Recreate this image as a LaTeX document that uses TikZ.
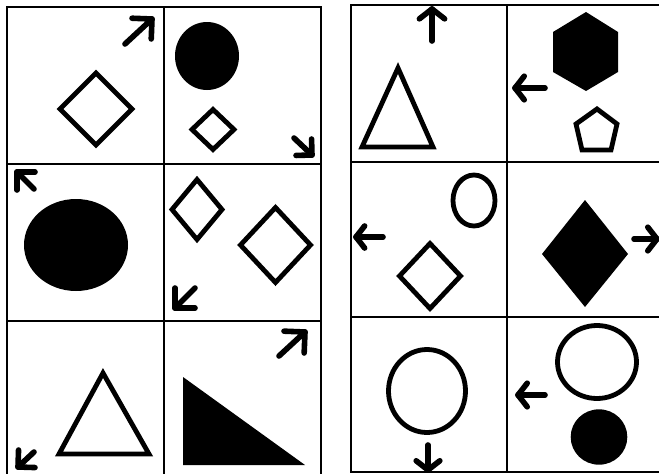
\documentclass[tikz,border=0pt]{standalone}
\usetikzlibrary{calc}
\newcommand\myarrow[4][52]{%
  \draw[arw] (#2) -- (#3);
  \draw[arw] ($(#3)!#4!#1:(#2)$) -- (#3) -- ($(#3)!#4!-#1:(#2)$);
}
\begin{document}
\begin{tikzpicture}[x=1pt,y=-1pt,
  grid/.style={line width=1.5pt},
  outl/.style={line width=4.8pt, line join=miter},
  solid shape/.style={fill=black},
  arw/.style={line width=5.6pt, line cap=round, line join=round}]
\useasboundingbox (0,0) rectangle (659,474);
\clip (0,0) rectangle (659,474);
\fill[white] (0,0) rectangle (659,474);

% ---------- left grid ----------
\draw[grid] (7,7) rectangle (321,482);
\draw[grid] (164,7) -- (164,482);
\draw[grid] (7,164) -- (321,164);
\draw[grid] (7,321) -- (321,321);

% cell 1
\draw[outl] (96,73) -- (132,109) -- (96,145) -- (60,109) -- cycle;
\myarrow[45]{125,44}{152,19}{20pt}
% cell 2
\fill[solid shape] (207,56) ellipse [x radius=32, y radius=34];
\draw[outl] (213,109.5) -- (234,129.5) -- (213,149.5) -- (192,129.5) -- cycle;
\myarrow[45]{294,138}{312,155}{16pt}
% cell 3
\fill[solid shape] (76,245) ellipse [x radius=52, y radius=46];
\myarrow[45]{34,189}{17,172}{18pt}
% cell 4
\draw[outl] (197,179.5) -- (222,209.5) -- (197,239.5) -- (172,209.5) -- cycle;
\draw[outl] (275.5,207.5) -- (310.5,245) -- (275.5,282.5) -- (240.5,245) -- cycle;
\myarrow[45]{195,288}{175,308}{20pt}
% cell 5
\draw[outl] (103,373) -- (149,454) -- (59,454) -- cycle;
\myarrow[45]{34,452}{18,467}{17pt}
% cell 6
\fill[solid shape] (183,377) -- (305,465) -- (183,465) -- cycle;
\myarrow[45]{279,356}{305,332}{21pt}

% ---------- right grid ----------
\draw[grid] (351,5) rectangle (665,472);
\draw[grid] (507,5) -- (507,472);
\draw[grid] (351,162) -- (665,162);
\draw[grid] (351,317) -- (665,317);

% R cell 1
\draw[outl] (398,68) -- (433,147) -- (362,147) -- cycle;
\myarrow{432,41}{432,9}{16pt}
% R cell 2
\fill[solid shape] (586,12) -- (618,32) -- (618,72) -- (586,91) -- (553,72) -- (553,32) -- cycle;
\draw[outl] (597,109) -- (617,124) -- (611,150) -- (582,150) -- (576,124) -- cycle;
\myarrow{545,88}{515,88}{15pt}
% R cell 3
\draw[line width=4.8pt] (474,200.5) ellipse [x radius=21, y radius=25.5];
\draw[outl] (430,243.5) -- (460.5,276) -- (430,308.5) -- (399.5,276) -- cycle;
\myarrow{383,237}{356,237}{14pt}
% R cell 4
\fill[solid shape] (585,200) -- (628,254) -- (585,307) -- (542,254) -- cycle;
\myarrow{634,239}{657,239}{15pt}
% R cell 5
\draw[line width=4.8pt] (427,391) ellipse [x radius=38.5, y radius=41.5];
\myarrow{428,445}{428,470}{15pt}
% R cell 6
\draw[line width=4.8pt] (597,362) ellipse [x radius=39.5, y radius=36.5];
\fill[solid shape] (599,437) ellipse [x radius=28.3, y radius=27.7];
\myarrow{545,395}{518,395}{15pt}
\end{tikzpicture}
\end{document}
